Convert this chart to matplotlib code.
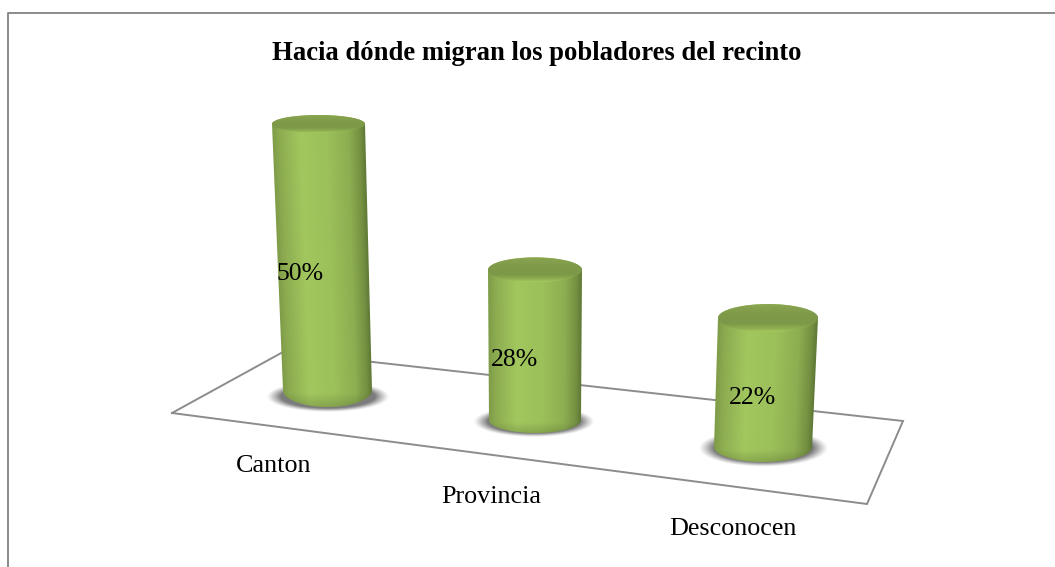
import numpy as np
import matplotlib
matplotlib.use("Agg")
import matplotlib.pyplot as plt
from matplotlib.colors import LinearSegmentedColormap
from matplotlib.patches import Ellipse, PathPatch
from matplotlib.path import Path

# --- data ---
categories = ["Canton", "Provincia", "Desconocen"]
values = [50, 28, 22]
value_labels = ["50%", "28%", "22%"]
title = "Hacia dónde migran los pobladores del recinto"

# --- layout (pixels in the picture) ---
W, H = 1055, 567
px_per_unit = [5.32, 5.36, 5.86]        # perspective scale of each column
bottoms = [(283, 372, 390, 17), (489, 581, 420, 13), (714, 812, 447, 15)]
top_geom = [(272, 365, 9), (488, 582, 12.5), (718, 818, 14)]
shadows = [(328, 397, 60, 15), (534, 422, 59, 15), (763, 448, 63, 18)]
label_pos = [(274, 466), (491, 497), (733, 529)]
value_pos = [(300, 274), (515, 360), (753, 398)]
floor = [(172, 413), (283, 352), (903, 421), (867, 504), (172, 413)]

plt.rcParams["font.family"] = ["Liberation Serif", "DejaVu Serif"]
fig = plt.figure(figsize=(W / 100, H / 100), dpi=100, facecolor="white")
ax = fig.add_axes([0, 0, 1, 1])
ax.set_xlim(0, W)
ax.set_ylim(H, 0)
ax.axis("off")

# chart frame (only left and top remain inside the crop)
ax.plot([8, 8, W], [H, 13, 13], color="#8a8a8a", lw=1.4, zorder=1)

# floor
ax.plot(*zip(*floor), color="#8c8c8c", lw=1.4, zorder=2, solid_joinstyle="miter")

body_cmap = LinearSegmentedColormap.from_list("body", [
    (0.00, "#7f9c48"), (0.07, "#8cab50"), (0.30, "#a2c75e"), (0.58, "#9cc05a"),
    (0.82, "#8dae51"), (0.95, "#748f41"), (1.00, "#5f7a36")])
top_cmap = LinearSegmentedColormap.from_list("top", [
    (0.00, "#8ba651"), (0.35, "#7f9a49"), (0.70, "#7c9848"), (0.88, "#8fae50"), (1.00, "#a5ca60")])


def ellipse_arc(cx, cy, a, b, t0, t1, n=60):
    t = np.linspace(t0, t1, n)
    return cx + a * np.cos(t), cy + b * np.sin(t)


def gradient(zorder, extent, data, cmap, clip=None):
    im = ax.imshow(data, extent=extent, cmap=cmap, vmin=0, vmax=1,
                   aspect="auto", zorder=zorder, interpolation="bilinear")
    if clip is not None:
        im.set_clip_path(clip)
    return im


for i, v in enumerate(values):
    xl_b, xr_b, y_b, b_b = bottoms[i]
    xl_t, xr_t, b_t = top_geom[i]
    y_t = y_b - v * px_per_unit[i]
    z = 3 + i * 2

    # soft shadow
    sx, sy, sa, sb = shadows[i]
    yy, xx = np.mgrid[-1.1:1.1:160j, -1.1:1.1:160j]
    r = np.sqrt(xx ** 2 + yy ** 2)
    alpha = np.clip((1.03 - r) / 0.24, 0, 1) ** 1.2 * 0.8
    rgba = np.zeros((160, 160, 4))
    rgba[..., :3] = 0.36
    rgba[..., 3] = alpha
    ax.imshow(rgba, extent=(sx - 1.1 * sa, sx + 1.1 * sa, sy + 1.1 * sb, sy - 1.1 * sb),
              aspect="auto", zorder=z, interpolation="bilinear")

    # body
    cb, ab = (xl_b + xr_b) / 2, (xr_b - xl_b) / 2
    ct, at = (xl_t + xr_t) / 2, (xr_t - xl_t) / 2
    bx, by = ellipse_arc(cb, y_b, ab, b_b, 0, np.pi)
    tx, ty = ellipse_arc(ct, y_t, at, b_t, np.pi, 2 * np.pi)
    verts = np.vstack([np.c_[bx, by], np.c_[tx, ty], [[bx[0], by[0]]]])
    clip = PathPatch(Path(verts), transform=ax.transData, fc="none", ec="none")
    ax.add_patch(clip)
    # horizontal shading, following the slant of the column
    ny, nx = 300, 200
    gy = np.linspace(y_t - b_t, y_b + b_b, ny)
    frac = (gy - y_t) / (y_b - y_t)
    left = xl_t + (xl_b - xl_t) * frac
    right = xr_t + (xr_b - xr_t) * frac
    gx = np.linspace(min(xl_t, xl_b), max(xr_t, xr_b), nx)
    data = np.clip((gx[None, :] - left[:, None]) / (right - left)[:, None], 0, 1)
    rgba_b = body_cmap(data)
    # darker rim near the base
    dist = np.clip((gy - (y_b + b_b * 0.2)) / (b_b * 0.8), 0, 1)[:, None, None]
    rgba_b[..., :3] *= (1 - 0.15 * dist)
    im = ax.imshow(rgba_b, extent=(gx[0], gx[-1], gy[-1], gy[0]), aspect="auto",
                   zorder=z + 1, interpolation="bilinear")
    im.set_clip_path(clip)

    # top cap
    cap = Ellipse((ct, y_t), 2 * at, 2 * b_t, fc="none", ec="none", transform=ax.transData)
    ax.add_patch(cap)
    ty_g = np.linspace(0, 1, 100)[:, None]
    gradient(z + 1.5, (xl_t, xr_t, y_t + b_t, y_t - b_t), ty_g, top_cmap, cap)

    ax.text(value_pos[i][0], value_pos[i][1], value_labels[i], fontsize=18.5,
            ha="center", va="center", color="black", zorder=20)
    ax.text(label_pos[i][0], label_pos[i][1], categories[i], fontsize=18.8,
            ha="center", va="center", color="black", zorder=20)

ax.text(537, 54, title, fontsize=19.2, fontweight="bold", ha="center", va="center",
        color="black", zorder=20)

ax.set_xlim(0, W)
ax.set_ylim(H, 0)
fig.savefig("out.png", dpi=100, facecolor="white")
